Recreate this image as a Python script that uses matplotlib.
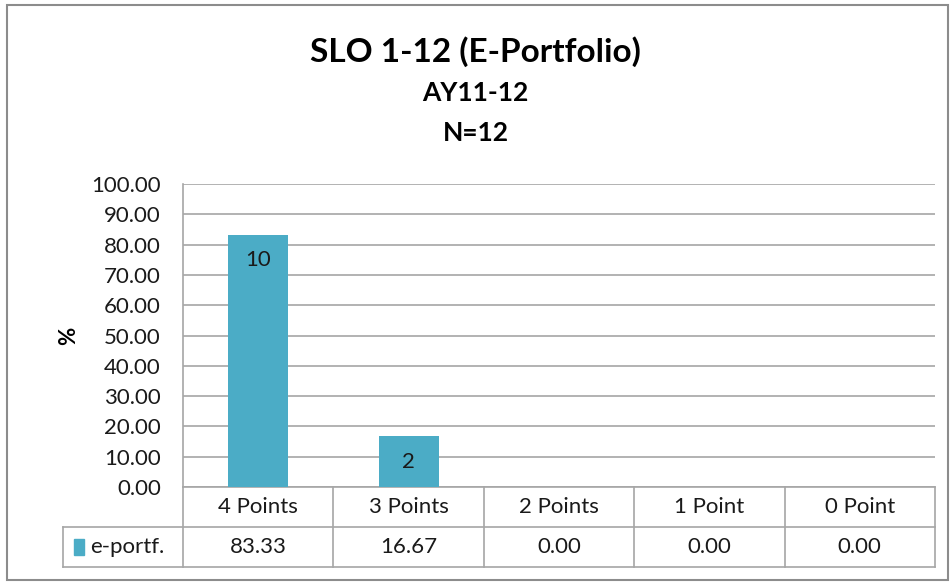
import matplotlib
matplotlib.use("Agg")
import matplotlib.pyplot as plt
from matplotlib.patches import Rectangle

plt.rcParams['font.family'] = ['Lato', 'DejaVu Sans']

title = "SLO 1-12 (E-Portfolio)"
subtitle1 = "AY11-12"
subtitle2 = "N=12"
categories = ["4 Points", "3 Points", "2 Points", "1 Point", "0 Point"]
series_name = "e-portf."
values = [83.33, 16.67, 0.00, 0.00, 0.00]
counts = ["10", "2", "", "", ""]
yticks = [0, 10, 20, 30, 40, 50, 60, 70, 80, 90, 100]

W, H = 951, 582
fig = plt.figure(figsize=(W / 100, H / 100), dpi=100)

def fx(px):
    return px / W

def fy(py):
    return 1 - py / H

# outer chart border
fig.patches.append(Rectangle((fx(7), fy(580)), fx(941), 575 / H, transform=fig.transFigure,
                             fill=False, edgecolor="#8c8c8c", linewidth=1.5))

left, right, top, bottom = 183, 935, 184, 487
ax = fig.add_axes([fx(left), fy(bottom), fx(right - left), (bottom - top) / H])

bar_color = "#4BACC6"
grid_color = "#a6a6a6"
text_color = "#1a1a1a"
fs = 16
x = list(range(len(categories)))
bars = ax.bar(x, values, width=0.4, color=bar_color, zorder=3)
for xi, v, c in zip(x, values, counts):
    if c:
        ax.text(xi, v - 8.5, c, ha="center", va="center", fontsize=fs, color=text_color, zorder=4)

ax.set_xlim(-0.5, len(categories) - 0.5)
ax.set_ylim(0, 100)
ax.set_yticks(yticks)
ax.set_yticklabels([f"{t:.2f}" for t in yticks], fontsize=fs, color=text_color)
ax.tick_params(axis="y", length=0, pad=16)
ax.set_xticks([])
ax.yaxis.grid(True, color=grid_color, linewidth=1.2, zorder=0)
for s in ["top", "right", "bottom"]:
    ax.spines[s].set_visible(False)
ax.spines["left"].set_color(grid_color)
ax.spines["left"].set_linewidth(1.2)
ax.set_ylabel("%", fontsize=16, fontweight="bold", labelpad=9)

# data table beneath the axes
trans = ax.get_xaxis_transform()
rh = 40 / (bottom - top)  # row height in axes fraction
line_kw = dict(color=grid_color, linewidth=1.2, clip_on=False, transform=trans)
leg_left = -0.5 - 120 / ((right - left) / len(categories))
n = len(categories)
# horizontal lines
ax.plot([-0.5, n - 0.5], [0, 0], **line_kw)
ax.plot([leg_left, n - 0.5], [-rh, -rh], **line_kw)
ax.plot([leg_left, n - 0.5], [-2 * rh, -2 * rh], **line_kw)
# vertical lines
for i in range(n + 1):
    ax.plot([i - 0.5, i - 0.5], [0, -2 * rh], **line_kw)
ax.plot([leg_left, leg_left], [-rh, -2 * rh], **line_kw)

for xi, cat, v in zip(x, categories, values):
    ax.text(xi, -rh / 2, cat, ha="center", va="center", fontsize=fs, color=text_color, transform=trans)
    ax.text(xi, -1.5 * rh, f"{v:.2f}", ha="center", va="center", fontsize=fs, color=text_color, transform=trans)

# legend key in table
ax.add_patch(Rectangle((leg_left + 0.07, -1.5 * rh - 0.025), 0.07, 0.05, transform=trans,
                       color=bar_color, clip_on=False))
ax.text(leg_left + 0.18, -1.5 * rh, series_name, ha="left", va="center", fontsize=fs,
        color=text_color, transform=trans)

fig.text(0.5, fy(52), title, ha="center", va="center", fontsize=24, fontweight="bold")
fig.text(0.5, fy(93), subtitle1, ha="center", va="center", fontsize=19, fontweight="bold")
fig.text(0.5, fy(133), subtitle2, ha="center", va="center", fontsize=19, fontweight="bold")

fig.savefig("out.png", dpi=100)
